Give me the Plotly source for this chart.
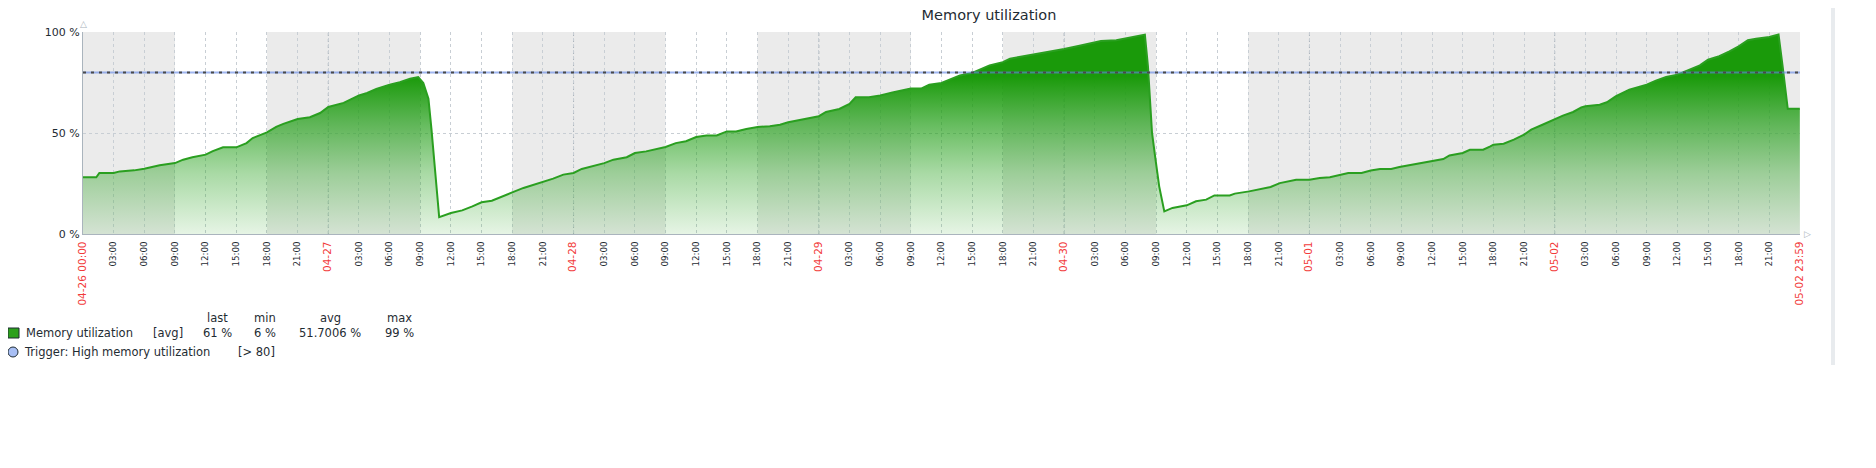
import plotly.graph_objects as go

# ---------------- data ----------------
days = ["04-26", "04-27", "04-28", "04-29", "04-30", "05-01", "05-02"]
work_days = ["04-26", "04-27", "04-28", "04-29", "04-30"]
work_start_h, work_end_h = 9, 18

hours = [0, 1.3, 1.6, 3, 3.6, 5, 6, 7.5, 9, 9.8, 10.7, 12, 12.7, 13.7, 15, 16, 16.6, 18,
         18.9, 19.6, 21, 22.2, 23.2, 24, 25.5, 27, 27.8, 28.7, 30, 31, 32, 32.8, 33.3, 33.8,
         34.1, 34.4, 34.6, 34.85, 36, 37.1, 38.1, 39, 40, 40.8, 42, 43.1, 44.1, 45, 46, 47,
         48, 48.8, 49.9, 51, 51.9, 53.2, 54, 55.1, 57, 58, 59, 60, 61, 62, 63, 63.9, 64.9,
         66, 67.2, 68.2, 69, 70.1, 72, 72.7, 74, 75, 75.6, 76.9, 78, 79.2, 80, 81, 82, 82.8,
         84, 85.1, 85.8, 87, 87.7, 88.7, 90, 90.7, 91.6, 93, 94.2, 96, 97.5, 99, 99.6, 101.1,
         102, 103.9, 104.2, 104.4, 104.6, 104.9, 105.3, 105.8, 106.6, 108, 108.9, 109.9,
         110.7, 112.2, 112.7, 114.1, 115.2, 116.2, 117.1, 117.9, 118.7, 120, 121, 122, 123,
         123.8, 125.1, 126, 126.9, 128, 128.8, 130.5, 132, 133.1, 133.7, 135, 135.7, 137,
         137.7, 138, 139, 140, 141, 141.7, 142.8, 144, 144.8, 145.8, 146.6, 147, 148.4,
         149.1, 150, 151.3, 153, 153.9, 154.9, 156, 156.9, 158.2, 159, 160.1, 161.1, 162,
         162.9, 163.7, 165, 165.9, 166.3, 166.6, 166.8, 167.98]
memory = [28.1, 28.1, 30.2, 30.2, 31, 31.5, 32.3, 34, 35.1, 36.8, 38, 39.3, 41, 42.9, 42.9,
          45, 47.5, 50.3, 53, 54.5, 56.9, 57.8, 59.9, 62.9, 64.9, 68.6, 69.8, 71.8, 73.9,
          75.1, 76.9, 77.7, 74.8, 67, 51.7, 35.1, 22.8, 8.3, 10.4, 11.7, 13.7, 15.7, 16.5,
          18.3, 20.6, 22.8, 24.4, 25.6, 27.4, 29.4, 30.2, 32.2, 33.5, 35.1, 36.8, 38, 40.1,
          40.9, 43.1, 45, 45.9, 48, 48.8, 48.8, 50.8, 50.8, 52, 53, 53.3, 54.1, 55.3, 56.3,
          58.3, 60.4, 61.9, 64.4, 67.7, 67.7, 68.6, 70.1, 71.1, 72, 72, 73.9, 74.8, 77.2,
          78.5, 79.7, 81.4, 83.5, 85.1, 86.8, 87.6, 88.8, 89.9, 91.6, 93.2, 94.6, 95.5, 95.9,
          96.7, 98.7, 83, 68.4, 50, 38.4, 23.6, 11.2, 12.9, 14.2, 16.2, 17, 19.1, 19.1, 20,
          21.1, 22.3, 23.3, 25.2, 26.1, 26.9, 26.9, 27.7, 28.1, 29.4, 30.2, 30.2, 31.4, 32.2,
          32.2, 33.2, 34.8, 36, 37.1, 38.9, 40.1, 41.7, 41.7, 43.4, 44.2, 44.7, 46.7, 49.2,
          51.7, 54.1, 56.9, 58.6, 60.4, 62.7, 63.2, 64, 65.2, 68.2, 71.5, 73.9, 75.9, 77.7,
          78.9, 80.9, 83.5, 86.3, 88, 90.4, 92.9, 95.9, 96.7, 97.5, 98.7, 83, 69.8, 62, 62]

trigger_value = 80
series_name = "Memory utilization"
trigger_name = "Trigger: High memory utilization"
legend_headers = ["last", "min", "avg", "max"]
legend_values = ["61 %", "6 %", "51.7006 %", "99 %"]
y_tickvals = [0, 50, 100]
y_ticktext = ["0 %", "50 %", "100 %"]

# ---------------- layout geometry (page pixel coords) ----------------
PAGE_W, PAGE_H = 1876, 468
OFF = 8  # default body margin of the html page
W, H = PAGE_W - OFF, PAGE_H - OFF
L, R, T, B = 83, 1800, 32, 234   # plot area in page pixels
PW, PH = R - L, B - T
END_H = 24 * len(days)


def px_x(px):
    return (px - L) / PW


def px_y(py):
    return (B - py) / PH


FONT = "DejaVu Sans"
TXT = "#1f2c33"
RED = "#f23b3b"

# tick labels
tickvals, ticktext = [], []
for h in range(0, END_H + 1, 3):
    if h == 0:
        lab = f'<span style="color:{RED};font-size:10.5px">{days[0]} 00:00</span>'
    elif h == END_H:
        lab = f'<span style="color:{RED};font-size:10.5px">{days[-1]} 23:59</span>'
    elif h % 24 == 0:
        lab = f'<span style="color:{RED};font-size:10.5px">{days[h // 24]}</span>'
    else:
        lab = f"{h % 24:02d}:00"
    tickvals.append(h)
    ticktext.append(lab)

fig = go.Figure()

# non-working shading
shapes = []
bounds = []
for i, d in enumerate(days):
    if d in work_days:
        bounds.append((i * 24 + work_start_h, i * 24 + work_end_h))
prev = 0
for a, b in bounds:
    if a > prev:
        shapes.append(dict(type="rect", xref="x", yref="y", x0=prev, x1=a, y0=0, y1=100,
                           fillcolor="#ebebeb", line_width=0, layer="below"))
    prev = b
if prev < END_H:
    shapes.append(dict(type="rect", xref="x", yref="y", x0=prev, x1=END_H, y0=0, y1=100,
                       fillcolor="#ebebeb", line_width=0, layer="below"))

# day boundary lines (slightly darker)
for i in range(1, len(days)):
    shapes.append(dict(type="line", xref="x", yref="y", x0=i * 24, x1=i * 24, y0=0, y1=100,
                       line=dict(color="#a9b2b9", width=1, dash="dot"), layer="below"))

fig.add_trace(go.Scatter(
    x=hours, y=memory, mode="lines", fill="tozeroy",
    line=dict(color="#2a9f20", width=2),
    fillgradient=dict(type="vertical", start=0, stop=100,
                      colorscale=[[0, "rgba(45,165,35,0.12)"],
                                  [0.3, "rgba(40,162,30,0.4)"],
                                  [0.55, "rgba(33,158,22,0.7)"],
                                  [0.78, "rgba(26,154,10,1)"],
                                  [1, "rgba(26,154,10,1)"]]),
    hoverinfo="skip", showlegend=False))

# trigger line
fig.add_trace(go.Scatter(x=[0, END_H], y=[trigger_value] * 2, mode="lines",
                         line=dict(color="rgba(97,133,230,0.6)", width=2),
                         hoverinfo="skip", showlegend=False))
fig.add_trace(go.Scatter(x=[0, END_H], y=[trigger_value] * 2, mode="lines",
                         line=dict(color="#4a4a4a", width=2, dash="3px,5px"),
                         hoverinfo="skip", showlegend=False))

annotations = []
# legend header
hdr_x = [217, 265, 330, 399]
for hx, txt in zip(hdr_x, legend_headers):
    annotations.append(dict(x=px_x(hx), y=px_y(318), xref="paper", yref="paper", text=txt,
                            showarrow=False, xanchor="center", yanchor="middle",
                            font=dict(family=FONT, size=11.5, color=TXT)))
for hx, txt in zip(hdr_x, legend_values):
    annotations.append(dict(x=px_x(hx), y=px_y(333), xref="paper", yref="paper", text=txt,
                            showarrow=False, xanchor="center", yanchor="middle",
                            font=dict(family=FONT, size=11.5, color=TXT)))
annotations.append(dict(x=px_x(24), y=px_y(333), xref="paper", yref="paper", text=series_name,
                        showarrow=False, xanchor="left", yanchor="middle",
                        font=dict(family=FONT, size=11.5, color=TXT)))
annotations.append(dict(x=px_x(151), y=px_y(333), xref="paper", yref="paper", text="[avg]",
                        showarrow=False, xanchor="left", yanchor="middle",
                        font=dict(family=FONT, size=11.5, color=TXT)))
annotations.append(dict(x=px_x(22), y=px_y(352), xref="paper", yref="paper", text=trigger_name,
                        showarrow=False, xanchor="left", yanchor="middle",
                        font=dict(family=FONT, size=11.5, color=TXT)))
annotations.append(dict(x=px_x(236), y=px_y(352), xref="paper", yref="paper",
                        text=f"[&gt; {trigger_value}]",
                        showarrow=False, xanchor="left", yanchor="middle",
                        font=dict(family=FONT, size=11.5, color=TXT)))
# axis arrows
annotations.append(dict(x=0, y=1, xref="paper", yref="paper", text="△", showarrow=False,
                        xanchor="center", yanchor="bottom", yshift=1,
                        font=dict(family=FONT, size=9, color="#aab4bd")))
annotations.append(dict(x=1, y=0, xref="paper", yref="paper", text="▷", showarrow=False,
                        xanchor="left", yanchor="middle", xshift=2,
                        font=dict(family=FONT, size=9, color="#aab4bd")))

# legend markers
shapes.append(dict(type="rect", xref="paper", yref="paper", x0=px_x(8), x1=px_x(19),
                   y0=px_y(338), y1=px_y(328), fillcolor="#2ca01c",
                   line=dict(color="#1f2c33", width=1)))
shapes.append(dict(type="circle", xref="paper", yref="paper", x0=px_x(8), x1=px_x(18),
                   y0=px_y(357), y1=px_y(347), fillcolor="#a8bff5",
                   line=dict(color="#1f2c33", width=1)))
# right page border bar
shapes.append(dict(type="rect", xref="paper", yref="paper", x0=px_x(1831), x1=px_x(1835),
                   y0=px_y(365), y1=px_y(OFF), fillcolor="#e8ebee", line_width=0))

fig.update_layout(
    width=W, height=H,
    margin=dict(l=L - OFF, r=PAGE_W - R, t=T - OFF, b=PAGE_H - B, pad=0),
    paper_bgcolor="white", plot_bgcolor="white",
    font=dict(family=FONT, color=TXT),
    title=dict(text=series_name, x=(989 - OFF) / W, xanchor="center",
               y=1 - (15 - OFF) / H, yanchor="middle",
               font=dict(family=FONT, size=14.5, color=TXT)),
    shapes=shapes, annotations=annotations, showlegend=False,
    xaxis=dict(range=[0, END_H], tickvals=tickvals, ticktext=ticktext, tickangle=-90,
               tickfont=dict(family=FONT, size=8.7, color=TXT), ticks="", ticklen=0,
               ticklabelstandoff=3,
               showgrid=True, gridcolor="#c8ced4", griddash="dot", gridwidth=1,
               showline=True, linecolor="#aab4bd", linewidth=1, zeroline=False,
               fixedrange=True),
    yaxis=dict(range=[0, 100], tickvals=y_tickvals, ticktext=y_ticktext,
               tickfont=dict(family=FONT, size=11, color=TXT), ticks="",
               showgrid=True, gridcolor="#c8ced4", griddash="dot", gridwidth=1,
               showline=True, linecolor="#aab4bd", linewidth=1, zeroline=False,
               fixedrange=True),
)

fig.write_html("out.html")
